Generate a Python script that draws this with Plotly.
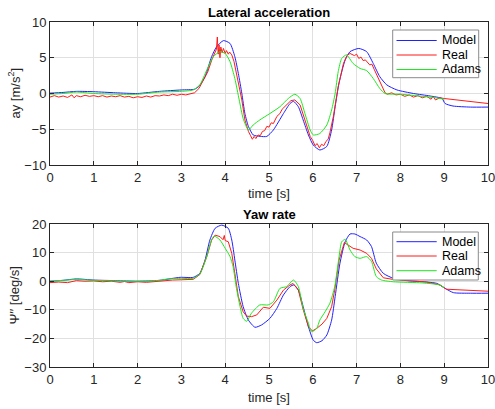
import plotly.graph_objects as go
from plotly.subplots import make_subplots

# ---------------- data: lateral acceleration ----------------
ay_model_t = [0, 0.3, 0.6, 1.0, 1.5, 2.0, 2.5, 3.0, 3.3, 3.4, 3.54, 3.69, 3.8, 3.96, 4.11, 4.22, 4.3, 4.38,
              4.45, 4.53, 4.64, 4.8, 4.95, 5.1, 5.33, 5.48, 5.56, 5.67, 5.78, 5.9, 6.01, 6.16, 6.32, 6.43,
              6.51, 6.6, 6.74, 6.85, 7.05, 7.23, 7.38, 7.53, 7.69, 7.92, 8.3, 8.68, 8.95, 9.02, 9.2, 9.6, 10.0]
ay_model = [0.05, 0.15, 0.3, 0.25, 0.1, 0.0, 0.3, 0.5, 0.6, 1.0, 2.35, 5.15, 6.5, 7.4, 7.0, 5.15, 2.8, 0.0,
            -2.8, -4.6, -5.8, -6.0, -6.0, -5.1, -2.8, -1.4, -1.1, -1.85, -3.7, -5.8, -7.2, -7.9, -7.4, -5.1,
            -1.85, 1.5, 4.7, 5.85, 6.3, 5.85, 4.2, 2.35, 1.2, 0.5, 0.0, -0.35, -0.7, -1.4, -1.75, -1.9, -1.9]

ay_real_t = [0.0, 0.1, 0.2, 0.3, 0.4, 0.5, 0.55, 0.6, 0.7, 0.8, 0.9, 1.0, 1.1, 1.2, 1.3, 1.4, 1.5, 1.6, 1.7,
             1.8, 1.9, 2.0, 2.1, 2.2, 2.3, 2.4, 2.5, 2.6, 2.7, 2.8, 2.9, 3.0, 3.1, 3.2, 3.3, 3.4, 3.5, 3.6,
             3.7, 3.75, 3.8, 3.82, 3.84, 3.86, 3.88, 3.9, 3.93, 3.96, 4.0, 4.03, 4.07, 4.1, 4.15, 4.2, 4.25,
             4.3, 4.38, 4.45, 4.53, 4.58, 4.62, 4.66, 4.7, 4.75, 4.8, 4.85, 4.9, 4.95, 5.0, 5.05, 5.1, 5.18,
             5.25, 5.3, 5.4, 5.5, 5.59, 5.65, 5.71, 5.82, 5.94, 6.0, 6.05, 6.1, 6.15, 6.2, 6.25, 6.3, 6.35,
             6.39, 6.47, 6.58, 6.7, 6.78, 6.85, 6.95, 7.0, 7.05, 7.1, 7.15, 7.2, 7.3, 7.35, 7.4, 7.5, 7.55,
             7.65, 7.7, 7.8, 7.9, 8.0, 8.1, 8.2, 8.3, 8.4, 8.5, 8.6, 8.7, 8.75, 8.8, 8.9, 9.0, 10.0]
ay_real = [-0.5, -0.3, -0.5, -0.35, -0.55, -0.2, -0.6, -0.3, -0.45, -0.25, -0.4, -0.3, -0.45, -0.3, -0.5,
           -0.35, -0.45, -0.3, -0.5, -0.4, -0.6, -0.45, -0.55, -0.35, -0.5, -0.3, -0.35, -0.2, -0.3, -0.1,
           -0.25, -0.1, -0.2, 0.0, 0.1, 0.7, 1.8, 3.0, 4.8, 5.6, 6.2, 7.9, 5.5, 6.8, 5.0, 6.5, 5.7, 6.3, 5.6,
           6.0, 5.5, 5.8, 5.4, 4.5, 3.0, 1.9, -0.9, -3.7, -5.3, -5.9, -6.4, -6.0, -6.3, -5.8, -5.9, -5.3,
           -5.2, -4.6, -4.7, -4.1, -4.2, -3.2, -2.8, -2.2, -1.6, -1.0, -0.9, -1.2, -1.6, -3.7, -6.0, -6.6,
           -7.3, -7.0, -7.6, -7.1, -7.3, -6.7, -6.4, -5.5, -3.2, 0.95, 4.2, 5.3, 5.6, 5.3, 5.5, 4.9, 5.1, 4.6,
           4.7, 4.0, 4.1, 3.4, 2.1, 1.5, 0.1, -0.1, 0.1, -0.2, -0.1, -0.4, -0.2, -0.5, -0.3, -0.6, -0.4,
           -0.8, -0.4, -0.9, -0.6, -0.7, -1.4]

ay_adams_t = [0, 0.3, 0.6, 1.0, 1.5, 2.0, 2.5, 3.0, 3.27, 3.42, 3.58, 3.73, 3.88, 4.0, 4.11, 4.22, 4.32, 4.41,
              4.53, 4.64, 4.79, 5.02, 5.25, 5.44, 5.59, 5.71, 5.82, 5.94, 6.01, 6.16, 6.32, 6.43, 6.51, 6.58,
              6.66, 6.77, 6.92, 7.08, 7.23, 7.38, 7.53, 7.65, 8.0, 8.5, 8.8, 9.0]
ay_adams = [-0.1, 0.0, 0.2, 0.0, -0.1, -0.1, 0.2, 0.3, 0.5, 1.2, 3.3, 5.15, 5.85, 5.6, 4.45, 2.1, -0.9, -3.5,
            -5.1, -4.4, -3.7, -2.8, -1.85, -0.7, -0.1, -0.7, -2.8, -5.1, -5.8, -5.6, -4.4, -2.3, 0.0, 3.05,
            4.9, 5.4, 4.2, 3.5, 3.2, 2.1, 0.7, 0.0, -0.1, -0.4, -0.6, -0.8]

# ---------------- data: yaw rate ----------------
yaw_model_t = [0, 0.3, 0.6, 1.0, 1.5, 2.0, 2.5, 2.97, 3.27, 3.42, 3.54, 3.65, 3.77, 3.92, 4.07, 4.15, 4.22,
               4.3, 4.41, 4.53, 4.68, 4.83, 5.02, 5.18, 5.33, 5.48, 5.57, 5.67, 5.78, 5.9, 6.01, 6.09, 6.21,
               6.32, 6.43, 6.51, 6.62, 6.74, 6.85, 6.96, 7.08, 7.23, 7.34, 7.45, 7.61, 7.84, 8.14, 8.52, 8.83,
               9.02, 9.21, 9.6, 10.0]
yaw_model = [0.0, 0.3, 0.8, 0.4, 0.2, 0.0, 0.3, 1.35, 1.35, 2.75, 7.4, 14.4, 18.5, 19.6, 18.5, 14.4, 7.4,
             -0.75, -8.9, -13.6, -16.1, -15.3, -13.0, -9.5, -4.8, -1.9, -1.3, -3.1, -8.9, -15.9, -20.6, -21.5,
             -20.8, -18.8, -13.6, -5.4, 6.3, 13.8, 16.5, 16.5, 15.6, 14.4, 12.1, 6.3, 2.75, 1.0, 0.2, -0.2,
             -0.75, -2.5, -4.0, -4.2, -4.2]

yaw_real_t = [0.0, 0.2, 0.4, 0.6, 0.8, 1.0, 1.2, 1.4, 1.6, 1.7, 1.8, 2.0, 2.2, 2.4, 2.6, 2.8, 3.0, 3.27, 3.42,
              3.58, 3.69, 3.77, 3.88, 3.95, 3.98, 4.0, 4.07, 4.15, 4.22, 4.3, 4.41, 4.49, 4.6, 4.72, 4.87,
              4.95, 5.02, 5.18, 5.33, 5.48, 5.55, 5.67, 5.78, 5.9, 5.99, 6.09, 6.21, 6.32, 6.43, 6.5, 6.6,
              6.72, 6.92, 7.08, 7.23, 7.34, 7.45, 7.61, 7.84, 8.2, 8.6, 8.9, 9.05, 10.0]
yaw_real = [-0.5, -0.3, -0.5, 0.2, 0.0, 0.1, -0.2, 0.0, -0.4, -0.1, -0.5, -0.2, -0.4, -0.1, 0.2, 0.4, 0.5,
            0.65, 2.3, 8.6, 14.4, 16.1, 15.6, 14.5, 16.0, 14.2, 13.8, 9.75, 2.75, -5.4, -10.7, -12.2, -12.4,
            -11.8, -9.1, -9.3, -9.5, -6.6, -3.1, -1.3, -0.8, -3.1, -9.9, -15.9, -17.4, -16.5, -15.0, -13.0,
            -8.9, -3.1, 7.4, 13.5, 11.5, 10.9, 9.75, 8.0, 4.3, 1.2, 0.6, 0.2, -0.3, -1.3, -2.8, -3.5]

yaw_adams_t = [0, 0.3, 0.6, 1.0, 1.5, 2.0, 2.5, 2.7, 3.0, 3.27, 3.42, 3.58, 3.69, 3.75, 3.88, 4.0, 4.11, 4.18,
               4.25, 4.34, 4.41, 4.49, 4.6, 4.79, 4.98, 5.1, 5.25, 5.4, 5.56, 5.67, 5.78, 5.9, 5.97, 6.09,
               6.16, 6.28, 6.39, 6.5, 6.6, 6.66, 6.74, 6.85, 6.96, 7.08, 7.23, 7.34, 7.45, 7.57, 7.84, 8.5,
               8.9, 9.0]
yaw_adams = [0.0, 0.3, 0.6, 0.3, 0.1, 0.0, 0.3, 0.8, 1.0, 1.0, 2.5, 8.6, 14.5, 15.8, 14.4, 11.5, 8.6, 5.1,
             -1.9, -8.9, -13.0, -14.0, -11.2, -8.3, -8.3, -7.2, -2.5, -1.9, 0.4, -1.9, -9.5, -14.7, -17.7,
             -16.5, -13.6, -10.7, -7.7, -1.9, 8.6, 13.8, 14.6, 10.9, 8.6, 8.0, 8.6, 6.9, 1.6, 0.4, -0.2,
             -0.6, -1.3, -2.3]

series_names = ["Model", "Real", "Adams"]
series_colors = ["#2020ff", "#ff1a1a", "#1ee81e"]

x_ticks = list(range(0, 11))
ay_ticks = [-10, -5, 0, 5, 10]
yaw_ticks = [-30, -20, -10, 0, 10, 20]

titles = ["Lateral acceleration", "Yaw rate"]
x_label = "time [s]"
y_labels = ["ay [m/s<sup>2</sup>]", "Ψ′′ [deg/s]"]

# ---------------- figure ----------------
W, H = 495, 409
ML, MR, MT, MB = 50, 7, 22, 42
PW, PH = W - ML - MR, H - MT - MB
FONT = "Liberation Sans, Arial, Helvetica, sans-serif"
AX = "#262626"
GRID = "#e0e0e0"

fig = make_subplots(rows=2, cols=1, vertical_spacing=59 / PH)

top = [(ay_model_t, ay_model), (ay_real_t, ay_real), (ay_adams_t, ay_adams)]
bot = [(yaw_model_t, yaw_model), (yaw_real_t, yaw_real), (yaw_adams_t, yaw_adams)]
for row, group in ((1, top), (2, bot)):
    for (t, v), name, col in zip(group, series_names, series_colors):
        fig.add_trace(go.Scatter(x=t, y=v, mode="lines", name=name, showlegend=False,
                                 line=dict(color=col, width=1,
                                           shape="linear" if name == "Real" else "spline",
                                           smoothing=0.6)),
                      row=row, col=1)

axis_common = dict(showline=True, linecolor=AX, linewidth=1, mirror="ticks", ticks="inside",
                   ticklen=4, tickcolor=AX, showgrid=True, gridcolor=GRID, gridwidth=1,
                   zeroline=False, automargin=False, ticklabeloverflow="allow",
                   tickfont=dict(family=FONT, size=13, color=AX))
for r in (1, 2):
    fig.update_xaxes(range=[0, 10], tickvals=x_ticks, row=r, col=1, **axis_common)
fig.update_yaxes(range=[-10, 10], tickvals=ay_ticks, row=1, col=1, **axis_common)
fig.update_yaxes(range=[-30, 20], tickvals=yaw_ticks, row=2, col=1, **axis_common)


# reference-pixel -> paper coordinates
def px(xp):
    return (xp - ML) / PW


def py(yp):
    return (H - MB - yp) / PH


annotations = []
shapes = []
# subplot titles
for title, ycen in zip(titles, (13, 215)):
    annotations.append(dict(text="<b>%s</b>" % title, x=px(269), y=py(ycen), xref="paper", yref="paper",
                            xanchor="center", yanchor="middle", showarrow=False,
                            font=dict(family=FONT, size=13, color="#000000")))
# axis titles
for ycen in (193, 397):
    annotations.append(dict(text=x_label, x=px(269), y=py(ycen), xref="paper", yref="paper",
                            xanchor="center", yanchor="middle", showarrow=False,
                            font=dict(family=FONT, size=13, color=AX)))
for lab, ycen in zip(y_labels, (93.5, 295.5)):
    annotations.append(dict(text=lab, x=px(14), y=py(ycen), xref="paper", yref="paper",
                            xanchor="center", yanchor="middle", showarrow=False, textangle=-90,
                            font=dict(family=FONT, size=13, color=AX)))

# legends
for (bx0, by0, bx1, by1), rows in (((392.7, 30, 478.7, 77.7), (40.5, 55, 69.5)),
                                     ((392.7, 232, 478.3, 280), (241.7, 256, 270.7))):
    shapes.append(dict(type="rect", xref="paper", yref="paper", x0=px(bx0), x1=px(bx1), y0=py(by1),
                       y1=py(by0), line=dict(color="#8a8a8a", width=1), fillcolor="white", layer="above"))
    for ry, name, col in zip(rows, series_names, series_colors):
        shapes.append(dict(type="line", xref="paper", yref="paper", x0=px(396.5), x1=px(436.7),
                           y0=py(ry), y1=py(ry), line=dict(color=col, width=1), layer="above"))
        annotations.append(dict(text=name, x=px(439.5), y=py(ry), xref="paper", yref="paper",
                                xanchor="left", yanchor="middle", showarrow=False,
                                font=dict(family=FONT, size=12.5, color="#000000")))

fig.update_layout(width=W, height=H, margin=dict(l=ML, r=MR, t=MT, b=MB),
                  paper_bgcolor="white", plot_bgcolor="white", hovermode=False,
                  annotations=annotations, shapes=shapes, showlegend=False)

# remove the browser's default 8px body margin so the figure sits at the window origin
fig.write_html("out.html", config={"displayModeBar": False, "staticPlot": True},
               post_script="document.body.style.margin='0';document.body.style.overflow='hidden';")
